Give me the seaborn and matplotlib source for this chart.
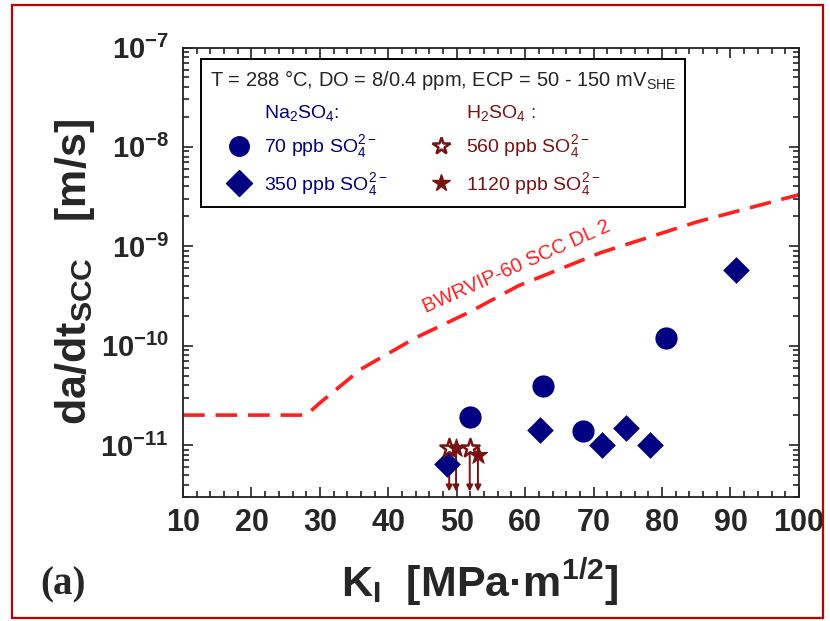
import matplotlib
matplotlib.use("Agg")
import matplotlib.pyplot as plt
from matplotlib.lines import Line2D
from matplotlib.patches import Rectangle
import matplotlib.ticker as mtick
import seaborn as sns

# ---- data ----
# Na2SO4, 70 ppb SO4(2-)
k_70 = [51.9, 62.6, 68.4, 80.6]
rate_70 = [1.9e-11, 3.9e-11, 1.38e-11, 1.2e-10]
# Na2SO4, 350 ppb SO4(2-)
k_350 = [48.6, 62.2, 71.2, 74.7, 78.3, 90.8]
rate_350 = [6.4e-12, 1.43e-11, 1.0e-11, 1.49e-11, 1.0e-11, 5.8e-10]
# H2SO4, upper limits (arrows down)
k_560 = [48.9, 51.9]
rate_560 = [9.4e-12, 9.4e-12]
k_1120 = [49.9, 53.1]
rate_1120 = [9.4e-12, 8.0e-12]
arrow_floor = 3.4e-12
# BWRVIP-60 SCC disposition line 2
k_dl2 = [10, 28, 30, 36, 44, 52, 59, 71, 85, 100]
rate_dl2 = [2.0e-11, 2.0e-11, 2.65e-11, 5.8e-11, 1.2e-10, 2.2e-10, 4.0e-10, 8.6e-10, 1.75e-9, 3.3e-9]

x_ticks = [10, 20, 30, 40, 50, 60, 70, 80, 90, 100]
y_ticks = [1e-11, 1e-10, 1e-9, 1e-8, 1e-7]
y_ticklabels = ["$10^{-11}$", "$10^{-10}$", "$10^{-9}$", "$10^{-8}$", "$10^{-7}$"]

navy = "#000080"
maroon = "#7a1212"
red = "#ff1f1f"

sns.set_style("ticks")
plt.rcParams["font.family"] = ["Liberation Sans", "DejaVu Sans"]
plt.rcParams["mathtext.fontset"] = "custom"
plt.rcParams["mathtext.rm"] = "Liberation Sans"
plt.rcParams["mathtext.default"] = "regular"

fig = plt.figure(figsize=(8.3, 6.21), dpi=100)
ax = fig.add_axes([0.2205, 0.1997, 0.742, 0.7238])

# dashed disposition line
sns.lineplot(x=k_dl2, y=rate_dl2, ax=ax, color=red, linewidth=2.6,
             linestyle=(0, (6, 3)), zorder=2)
ax.text(58.8, 6.3e-10, "BWRVIP-60 SCC DL 2", rotation=24, color=red,
        fontsize=14.5, ha="center", va="center", rotation_mode="anchor")

# arrows for the H2SO4 upper limits
for kk, rr in zip(k_560 + k_1120, rate_560 + rate_1120):
    ax.annotate("", xy=(kk, arrow_floor), xytext=(kk, rr),
                arrowprops=dict(arrowstyle="-|>", color=maroon, lw=1.4,
                                mutation_scale=9, shrinkA=0, shrinkB=0),
                zorder=3)

sns.scatterplot(x=k_350, y=rate_350, ax=ax, marker="D", s=185, color=navy,
                edgecolor=navy, linewidth=0, zorder=4)
sns.scatterplot(x=k_70, y=rate_70, ax=ax, marker="o", s=256, color=navy,
                edgecolor=navy, linewidth=0, zorder=4)
sns.scatterplot(x=k_560, y=rate_560, ax=ax, marker="*", s=190, color="white",
                edgecolor=maroon, linewidth=1.8, zorder=5)
sns.scatterplot(x=k_1120, y=rate_1120, ax=ax, marker="*", s=190, color=maroon,
                edgecolor=maroon, linewidth=0.8, zorder=5)

# axes
ax.set_yscale("log")
ax.set_xlim(10, 100)
ax.set_ylim(3e-12, 1e-7)
ax.set_xticks(x_ticks, labels=[str(v) for v in x_ticks], fontsize=22, fontweight="bold")
ax.set_yticks(y_ticks, labels=y_ticklabels, fontsize=21, fontweight="bold")
ax.xaxis.set_minor_locator(mtick.MultipleLocator(2))
ax.yaxis.set_minor_locator(mtick.LogLocator(base=10, subs=range(2, 10), numticks=20))
ax.yaxis.set_minor_formatter(mtick.NullFormatter())
ax.tick_params(which="both", direction="in", top=True, right=True, width=1.2, color="#222222")
ax.tick_params(which="major", length=7)
ax.tick_params(which="minor", length=4)
ax.tick_params(axis="x", pad=8)
ax.tick_params(axis="y", pad=10)
for sp in ax.spines.values():
    sp.set_linewidth(1.3)
    sp.set_color("#222222")

ax.set_xlabel("K$_I$  [MPa·m$^{1/2}$]", fontsize=31, fontweight="bold")
ax.xaxis.set_label_coords(0.481, -0.133)
ax.set_ylabel("da/dt$_{SCC}$   [m/s]", fontsize=31, fontweight="bold")
ax.yaxis.set_label_coords(-0.14, 0.5)

# legend
blank = Line2D([], [], linestyle="", marker=None)
handles = [
    blank,
    Line2D([], [], linestyle="", marker="o", markersize=14, color=navy),
    Line2D([], [], linestyle="", marker="D", markersize=13, color=navy),
    blank,
    Line2D([], [], linestyle="", marker="*", markersize=13, markerfacecolor="white",
           markeredgecolor=maroon, markeredgewidth=1.8),
    Line2D([], [], linestyle="", marker="*", markersize=13, color=maroon),
]
labels = ["Na$_2$SO$_4$:", "70 ppb SO$_4^{2-}$", "350 ppb SO$_4^{2-}$",
          "H$_2$SO$_4$ :", "560 ppb SO$_4^{2-}$", "1120 ppb SO$_4^{2-}$"]
leg = ax.legend(handles, labels, ncol=2, loc="upper left",
                bbox_to_anchor=(0.0294, 0.974), borderaxespad=0,
                title="T = 288 °C, DO = 8/0.4 ppm, ECP = 50 - 150 mV$_{SHE}$",
                title_fontsize=14.5, fontsize=14, alignment="left",
                labelcolor=[navy, navy, navy, maroon, maroon, maroon],
                handlelength=3, handletextpad=-0.2, columnspacing=1.2,
                borderpad=0.45, labelspacing=0.55, fancybox=False, framealpha=1)
leg.get_frame().set_edgecolor("black")
leg.get_frame().set_linewidth(1.4)

fig.text(40 / 830, 1 - 594 / 621, "(a)", family=["Liberation Serif", "DejaVu Serif"],
         fontweight="bold", fontsize=28, ha="left", va="baseline")

# red frame round the whole picture
fig.add_artist(Rectangle((12 / 830, 1 - 618 / 621), 811 / 830, 613 / 621,
                         transform=fig.transFigure, fill=False,
                         edgecolor="#c00000", linewidth=1.6))

fig.savefig("out.png", dpi=100)
